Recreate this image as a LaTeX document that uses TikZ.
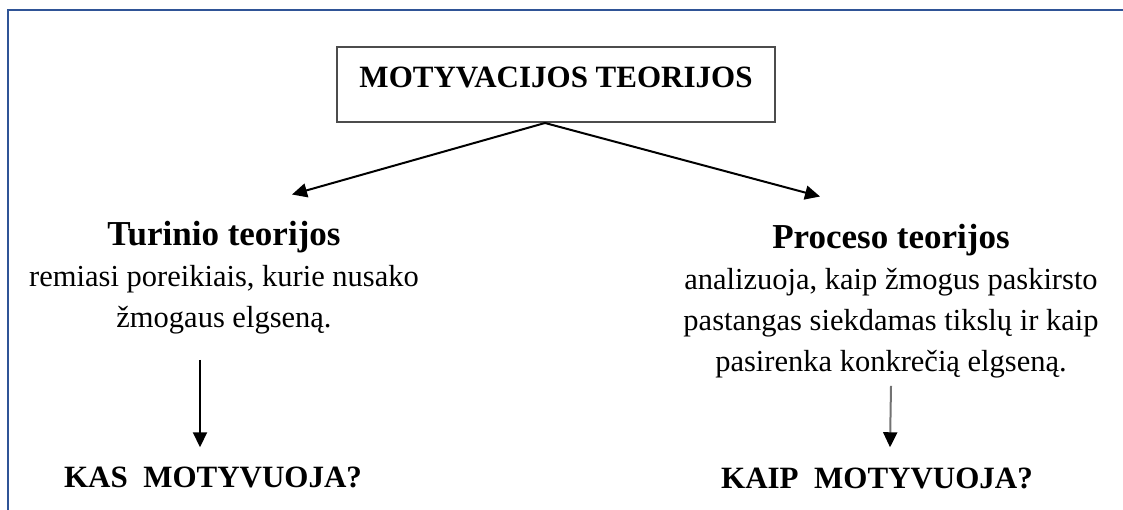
\documentclass[tikz,border=0pt]{standalone}
\usepackage{fontspec}
\setmainfont{Liberation Serif}
\usetikzlibrary{arrows.meta}
\definecolor{frameblue}{RGB}{47,84,150}
\newcommand{\theoryhead}[1]{{\fontsize{35}{41}\selectfont\bfseries #1}}

\begin{document}
\begin{tikzpicture}[x=1pt,y=-1pt,
    title_node/.style={draw=black!70,line width=2pt,minimum width=438pt,text height=31pt,text depth=24pt,inner ysep=10pt,font=\fontsize{31}{37}\selectfont\bfseries},
    text_node/.style={align=center,inner sep=0pt,font=\fontsize{30.5}{41}\selectfont},
    question_node/.style={inner sep=0pt,font=\fontsize{31}{37}\selectfont\bfseries},
    arrow_line/.style={line width=2pt,-{Triangle[length=15pt,width=14pt]}}]

    \useasboundingbox (0,0) rectangle (1123,510);
    \draw[line width=2.2pt,frameblue] (8,510) -- (8,10) -- (1123,10);

    \node[title_node,anchor=base] (title) at (556,88) {MOTYVACIJOS TEORIJOS};
    \node[text_node,anchor=base] (turinio) at (224,327) {\theoryhead{Turinio teorijos}\\ remiasi poreikiais, kurie nusako\\ žmogaus elgseną.};
    \node[text_node,anchor=base] (proceso) at (891,371) {\theoryhead{Proceso teorijos}\\ analizuoja, kaip žmogus paskirsto\\ pastangas siekdamas tikslų ir kaip\\ pasirenka konkrečią elgseną.};
    \node[question_node,anchor=base] (kas) at (213,487) {KAS\ \ MOTYVUOJA?};
    \node[question_node,anchor=base] (kaip) at (877,488) {KAIP\ \ MOTYVUOJA?};

    \draw[arrow_line] ([xshift=-11pt]title.south) -- ([xshift=68pt,yshift=26pt]turinio.north);
    \draw[arrow_line] ([xshift=-11pt]title.south) -- ([xshift=-71pt,yshift=27pt]proceso.north);
    \draw[arrow_line] ([xshift=-24pt,yshift=-26pt]turinio.south) -- ([xshift=-13pt,yshift=19pt]kas.north);
    \draw[arrow_line,draw=black!55,-{Triangle[length=15pt,width=14pt,black]}] ([yshift=-8pt]proceso.south) -- ([xshift=13pt,yshift=20pt]kaip.north);
\end{tikzpicture}
\end{document}
